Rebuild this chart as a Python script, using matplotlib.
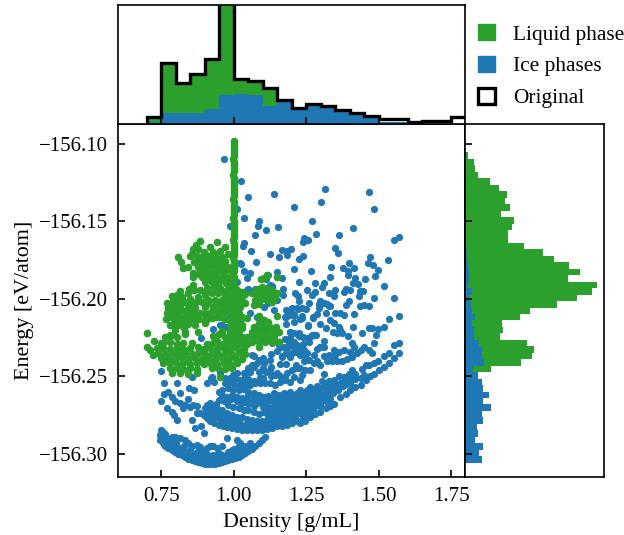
import matplotlib
matplotlib.use('Agg')
import matplotlib.pyplot as plt
from matplotlib.patches import Patch
import numpy as np

plt.rcParams['font.family'] = ['Liberation Serif', 'DejaVu Serif']
plt.rcParams['font.size'] = 15

BLUE = '#1f77b4'
GREEN = '#2ca02c'

# every energy below is given as eV under -156, so 0.2345 means -156.2345

# liquid phase: narrow column at 1 g/mL
liquid_column = [
    (1.000, .0985), (1.001, .1000), (1.000, .1020), (1.000, .1040), (1.001, .1058), (1.000, .1080), (0.999, .1100),
    (1.000, .1120), (1.001, .1140), (1.000, .1160), (1.000, .1178), (0.999, .1200), (1.000, .1220), (1.001, .1240),
    (1.000, .1260), (1.000, .1280), (1.000, .1300), (1.001, .1320), (1.000, .1340), (0.999, .1360), (1.000, .1380),
    (1.000, .1400), (1.001, .1420), (1.000, .1440), (1.000, .1460), (0.999, .1480), (1.000, .1500), (1.001, .1520),
    (1.000, .1540), (1.000, .1560), (1.000, .1580), (1.001, .1600), (0.999, .1620), (1.000, .1640), (1.000, .1660),
    (1.001, .1680), (1.000, .1700), (1.000, .1720), (0.999, .1740), (1.000, .1760), (1.001, .1780), (1.000, .1800),
    (1.000, .1820), (0.999, .1840), (1.001, .1860), (1.000, .1880), (1.000, .1900), (1.000, .1920), (1.001, .1940),
    (1.000, .1960), (1.000, .2000), (1.000, .2040), (1.001, .2080), (1.000, .2120), (1.000, .2160), (1.000, .2200),
]

# liquid phase: top blob
liquid_upper = [
    (.885, .1628), (.944, .1637), (.970, .1665), (.870, .1654), (.919, .1669), (.861, .1682), (.878, .1682),
    (.855, .1712), (.898, .1697), (.930, .1697), (.953, .1691), (.849, .1725), (.872, .1725), (.890, .1729),
    (.913, .1725), (.936, .1725), (.959, .1729), (.979, .1712), (.809, .1729), (.818, .1766), (.824, .1804),
    (.844, .1794), (.863, .1761), (.882, .1761), (.901, .1755), (.924, .1755), (.947, .1755), (.970, .1755),
    (.878, .1794), (.898, .1790), (.919, .1790), (.939, .1790), (.962, .1790), (.982, .1794), (.861, .1837),
    (.884, .1826), (.905, .1826), (.924, .1826), (.944, .1826), (.965, .1819), (.859, .1858), (.890, .1862),
    (.913, .1862), (.936, .1858), (.956, .1869), (.901, .1890), (.924, .1890), (.947, .1897), (.976, .1858),
    (.988, .1815), (.988, .1901), (.905, .1720), (.925, .1770), (.945, .1810), (.965, .1850), (.900, .1860),
    (.920, .1840), (.880, .1840), (.990, .1880), (.975, .1900), (.960, .1880),
]

# liquid phase: middle band
liquid_middle = [
    (.861, .1912), (.847, .1940), (.863, .1944), (.815, .1948), (.803, .1976), (.786, .1981), (.821, .1987),
    (.844, .1966), (.884, .1944), (.907, .1933), (.930, .1933), (.953, .1933), (.976, .1944), (.994, .1923),
    (.878, .1987), (.901, .1976), (.924, .1966), (.947, .1966), (.970, .1976), (.994, .1976), (1.011, .1944),
    (1.040, .1970), (.890, .2019), (.913, .2008), (.936, .2008), (.959, .2008), (.982, .2008), (1.005, .2008),
    (1.028, .2008), (.769, .2030), (.786, .2030), (.809, .2019), (.774, .2062), (.798, .2062), (.815, .2051),
    (.844, .2062), (.867, .2062), (.901, .2051), (.930, .2051), (.953, .2047), (.976, .2051), (1.000, .2051),
    (1.022, .2051), (1.040, .2030), (.769, .2094), (.786, .2094), (.809, .2094), (.838, .2094), (.861, .2094),
    (.884, .2094), (.919, .2094), (.947, .2084), (.970, .2084), (.994, .2094), (1.017, .2090), (.766, .2131),
    (.792, .2127), (.821, .2127), (.844, .2127), (.872, .2127), (.924, .2127), (.953, .2116), (.988, .2137),
    (1.011, .2137), (1.045, .2127), (.786, .2170), (.809, .2170), (.844, .2165), (.867, .2170), (.901, .2159),
    (.988, .2170), (1.011, .2180), (.798, .2202), (.832, .2213), (.878, .2213), (.792, .2234), (.988, .2213),
    (1.011, .2223), (.940, .1910), (.960, .1950), (.920, .1950), (.900, .1960), (.940, .2030), (.970, .2030),
    (.995, .2030), (1.020, .2020), (.910, .2030), (1.010, .2070), (.980, .2070), (.960, .2070), (.930, .2070),
    (.830, .2080), (.800, .2110), (.780, .2110), (.830, .2150), (1.000, .2240), (.990, .2240), (1.010, .2240),
    (1.030, .2120), (1.030, .2170), (1.020, .2210), (1.030, .2250), (1.045, .2250), (1.030, .2190), (1.015, .1990),
    (1.030, .1960), (.900, .2100), (.905, .2140), (.940, .2120), (.970, .2130), (.880, .2130), (.860, .2130),
    (.850, .2030), (.830, .2020), (.850, .2000), (.870, .2020), (.790, .2000), (.810, .2060), (.780, .2170),
    (.815, .2130), (.830, .2190), (.800, .2150), (.970, .2250), (.950, .2230), (.930, .2240), (.960, .2210),
]

# liquid phase: the two blobs right of the column
liquid_right = [
    (1.103, .1864), (1.115, .1847), (1.094, .1873), (1.149, .1858), (1.080, .1940), (1.097, .1923), (1.115, .1933),
    (1.132, .1944), (1.149, .1966), (1.063, .1966), (1.080, .1976), (1.103, .1966), (1.126, .1976), (1.143, .1998),
    (1.074, .2008), (1.092, .2008), (1.115, .2008), (1.132, .2019), (1.069, .2041), (1.086, .2034), (1.086, .2112),
    (1.149, .2112), (1.103, .2137), (1.120, .2148), (1.086, .2159), (1.069, .2180), (1.103, .2180), (1.126, .2180),
    (1.147, .2180), (1.063, .2213), (1.086, .2213), (1.109, .2213), (1.132, .2213), (1.155, .2213), (1.069, .2245),
    (1.092, .2245), (1.115, .2245), (1.138, .2241), (1.063, .2277), (1.086, .2277), (1.109, .2277), (1.132, .2277),
    (1.157, .2277), (1.086, .2309), (1.100, .2195), (1.120, .2195), (1.140, .2260), (1.100, .2260), (1.120, .2260),
    (1.080, .2195), (1.090, .1950), (1.120, .1950), (1.100, .1985), (1.120, .1990),
]

# liquid phase: bottom band
liquid_lower = [
    (.702, .2223), (.700, .2313), (.725, .2273), (.723, .2363), (.713, .2331), (.751, .2288), (.763, .2249),
    (.780, .2234), (.803, .2245), (.832, .2228), (.855, .2283), (.878, .2313), (.942, .2271), (.970, .2288),
    (.988, .2266), (1.011, .2266), (1.034, .2288), (.757, .2288), (.780, .2281), (.803, .2292), (.826, .2285),
    (.907, .2290), (.930, .2283), (.953, .2292), (.976, .2285), (1.000, .2290), (1.022, .2283), (1.045, .2292),
    (.734, .2320), (.757, .2316), (.780, .2324), (.803, .2318), (.826, .2322), (.849, .2318), (.896, .2322),
    (.919, .2316), (.942, .2324), (.965, .2318), (.988, .2322), (1.011, .2316), (1.034, .2322), (.740, .2352),
    (.763, .2356), (.786, .2348), (.809, .2354), (.832, .2350), (.855, .2356), (.878, .2348), (.901, .2354),
    (.924, .2350), (.947, .2356), (.970, .2348), (.994, .2354), (1.017, .2350), (1.040, .2356), (.751, .2384),
    (.774, .2380), (.798, .2388), (.821, .2382), (.844, .2386), (.867, .2380), (.890, .2388), (.913, .2382),
    (.936, .2386), (.959, .2380), (.982, .2388), (1.005, .2382), (1.028, .2386), (.757, .2417), (.780, .2413),
    (.803, .2420), (.826, .2415), (.849, .2419), (.872, .2413), (.896, .2420), (.919, .2415), (.942, .2419),
    (.965, .2413), (.988, .2420), (1.011, .2415), (.780, .2449), (.803, .2445), (.826, .2452), (.849, .2447),
    (.872, .2451), (.924, .2449), (.947, .2445), (.970, .2452), (.994, .2447), (.786, .2481), (.815, .2477),
    (.844, .2484), (.872, .2479), (.953, .2503),
]

# ice phases: sparse points in the upper part of the cloud
ice_upper = [
    (1.024, .1242), (1.048, .1343), (1.139, .1323), (1.316, .1293), (1.466, .1315), (1.300, .1377), (1.485, .1424),
    (1.209, .1407), (1.013, .1424), (1.036, .1482), (1.087, .1497), (1.084, .1530), (1.112, .1555), (1.154, .1538),
    (1.270, .1502), (1.410, .1544), (1.074, .1592), (1.037, .1643), (1.033, .1663), (1.061, .1691), (1.285, .1585),
    (1.365, .1590), (1.243, .1611), (1.255, .1622), (1.239, .1637), (1.553, .1620), (1.571, .1605), (1.165, .1686),
    (1.197, .1680), (1.184, .1691), (1.184, .1718), (1.127, .1712), (1.157, .1729), (1.349, .1671), (1.361, .1706),
    (1.239, .1723), (1.224, .1744), (1.470, .1731), (1.534, .1751), (1.463, .1768), (1.481, .1781), (1.077, .1764),
    (1.024, .1774), (1.209, .1811), (1.266, .1822), (1.337, .1796), (1.378, .1800), (1.397, .1770), (1.414, .1804),
    (1.499, .1815), (1.036, .1819), (1.058, .1832), (1.047, .1869), (1.117, .1847), (1.112, .1873), (1.150, .1828),
    (1.167, .1869), (1.394, .1824), (1.394, .1850), (1.333, .1858), (1.418, .1867), (1.454, .1873), (1.488, .1854),
    (1.224, .1890), (1.282, .1901), (1.313, .1897), (1.305, .1925), (1.411, .1901), (1.428, .1908), (1.517, .1916),
    (1.048, .1935), (1.074, .1940), (1.131, .1916), (1.253, .1942), (1.282, .1955), (1.270, .1978), (1.348, .1942),
    (1.329, .1966), (1.345, .1981), (1.386, .1940), (1.382, .1959), (1.401, .1944), (1.435, .1953), (1.446, .1950),
    (1.434, .1981), (1.485, .1993), (1.553, .1993), (1.213, .1961), (1.222, .1981), (1.224, .2017), (1.260, .2030),
    (1.293, .2034), (1.305, .2030), (1.322, .2034), (1.334, .2047), (1.299, .2015), (1.182, .2073), (1.199, .2064),
    (1.222, .2064), (1.237, .2058), (1.251, .2067), (1.195, .2107), (1.207, .2105), (1.180, .2116), (1.228, .2133),
    (1.236, .2122), (1.274, .2124), (1.180, .2165), (1.208, .2150), (1.255, .2174), (1.195, .2213), (1.209, .2223),
    (1.224, .2240), (1.239, .2245), (1.255, .2258), (1.270, .2236), (1.284, .2234), (1.178, .2262), (1.195, .2256),
    (1.190, .2288), (1.172, .2309), (1.207, .2313), (1.236, .2309), (1.299, .2309),
]

# ice phases: right hand side of the cloud
ice_right = [
    (1.322, .2405), (1.340, .2405), (1.357, .2401), (1.374, .2401), (1.392, .2390), (1.409, .2377), (1.426, .2352),
    (1.438, .2330), (1.449, .2309), (1.466, .2330), (1.478, .2352), (1.328, .2362), (1.345, .2330), (1.363, .2341),
    (1.380, .2330), (1.403, .2341), (1.415, .2309), (1.409, .2283), (1.395, .2244), (1.374, .2223), (1.357, .2223),
    (1.343, .2212), (1.484, .2287), (1.490, .2234), (1.466, .2191), (1.478, .2191), (1.499, .2197), (1.518, .2180),
    (1.536, .2133), (1.571, .2111), (1.443, .2223), (1.411, .2186), (1.415, .2100), (1.386, .2040), (1.397, .2012),
    (1.435, .2047), (1.449, .2040), (1.466, .2047), (1.349, .2090), (1.366, .2094), (1.380, .2105), (1.328, .2047),
    (1.311, .2029), (1.299, .2040), (1.294, .2062), (1.317, .2094), (1.288, .2098), (1.274, .2120), (1.236, .2115),
    (1.256, .2169), (1.299, .2163), (1.317, .2191), (1.334, .2137), (1.345, .2158), (1.363, .2180), (1.368, .2201),
    (1.230, .2240), (1.253, .2255), (1.268, .2238), (1.282, .2234), (1.299, .2309), (1.311, .2276), (1.313, .2309),
    (1.288, .2326), (1.276, .2362), (1.253, .2352), (1.242, .2330), (1.230, .2319), (1.247, .2362), (1.230, .2362),
    (1.242, .2405), (1.259, .2395), (1.276, .2416), (1.288, .2405), (1.299, .2427), (1.311, .2373), (1.340, .2373),
    (1.351, .2362), (1.230, .2448), (1.247, .2459), (1.265, .2459), (1.236, .2491), (1.230, .2524), (1.570, .2287),
    (1.553, .2302), (1.571, .2352), (1.553, .2384), (1.536, .2412), (1.518, .2442), (1.501, .2463), (1.484, .2485),
    (1.472, .2498), (1.455, .2524), (1.438, .2556), (1.420, .2571), (1.403, .2592), (1.386, .2614), (1.368, .2631),
    (1.345, .2678), (1.334, .2695), (1.317, .2706), (1.299, .2728), (1.282, .2743), (1.265, .2764), (1.247, .2786),
    (1.230, .2803), (1.536, .2352), (1.518, .2369), (1.498, .2399), (1.484, .2416), (1.466, .2427), (1.455, .2427),
    (1.443, .2453), (1.420, .2485), (1.409, .2463), (1.397, .2485), (1.380, .2502), (1.363, .2498), (1.345, .2524),
    (1.328, .2530), (1.313, .2485), (1.305, .2534), (1.288, .2562), (1.265, .2571), (1.253, .2588), (1.242, .2609),
    (1.230, .2620), (1.230, .2695), (1.247, .2685), (1.265, .2663), (1.282, .2652), (1.299, .2642), (1.317, .2631),
    (1.334, .2609), (1.351, .2588), (1.368, .2571), (1.386, .2549), (1.403, .2541), (1.420, .2519), (1.438, .2513),
    (1.449, .2491), (1.230, .2652), (1.247, .2642), (1.265, .2631), (1.282, .2620), (1.299, .2605), (1.317, .2592),
    (1.334, .2571), (1.351, .2556), (1.368, .2541), (1.386, .2524), (1.403, .2506), (1.420, .2498), (1.230, .2738),
    (1.247, .2728), (1.265, .2706), (1.282, .2695), (1.299, .2678), (1.317, .2663), (1.334, .2648), (1.299, .2695),
    (1.276, .2728), (1.253, .2749), (1.236, .2781), (1.276, .2588), (1.259, .2599), (1.294, .2577), (1.311, .2566),
    (1.328, .2545), (1.345, .2566), (1.240, .2670), (1.256, .2660), (1.274, .2640), (1.290, .2630), (1.308, .2610),
    (1.325, .2600), (1.342, .2580), (1.360, .2560), (1.378, .2535), (1.395, .2515), (1.412, .2510), (1.240, .2710),
    (1.258, .2695), (1.275, .2675), (1.292, .2660), (1.310, .2645), (1.326, .2630), (1.344, .2610), (1.360, .2590),
    (1.377, .2560), (1.240, .2630), (1.258, .2615), (1.274, .2605), (1.290, .2590), (1.305, .2575), (1.240, .2760),
    (1.260, .2735), (1.240, .2780),
]

# ice phases: the bowl at the bottom
ice_bowl = [
    (.746, .2910), (.755, .2932), (.764, .2949), (.775, .2964), (.786, .2979), (.798, .2990), (.809, .3003),
    (.821, .3011), (.832, .3022), (.844, .3031), (.855, .3039), (.867, .3048), (.878, .3056), (.890, .3061),
    (.901, .3065), (.913, .3065), (.924, .3065), (.936, .3063), (.948, .3059), (.959, .3054), (.971, .3048),
    (.982, .3041), (.994, .3035), (1.005, .3026), (1.017, .3018), (1.028, .3007), (1.040, .2996), (1.051, .2981),
    (1.063, .2968), (1.074, .2949), (1.086, .2932), (1.097, .2910), (1.109, .2893), (.746, .2878), (.751, .2893),
    (.763, .2910), (.775, .2921), (.786, .2932), (.801, .2958), (.813, .2964), (.824, .2975), (.836, .2986),
    (.847, .2996), (.861, .3007), (.873, .3018), (.884, .3029), (.896, .3035), (.909, .3039), (.924, .3039),
    (.938, .3035), (.953, .3033), (.967, .3022), (.979, .3018), (.990, .3007), (1.002, .2996), (1.013, .2986),
    (1.025, .2971), (1.036, .2958), (1.048, .2949), (1.057, .2932), (.751, .2846), (.757, .2857), (.763, .2872),
    (.786, .2893), (.798, .2889), (.815, .2900), (.832, .2910), (.844, .2932), (.855, .2949), (.873, .2943),
    (.884, .2958), (.896, .2981), (.907, .2964), (.919, .2949), (.930, .2949), (.942, .2964), (.959, .2949),
    (.976, .2900), (.994, .2975), (1.013, .2910), (1.022, .2932), (1.034, .2949), (.948, .2996), (.873, .2986),
    (.901, .3007), (.930, .3007), (.770, .2900), (.800, .2930), (.830, .2950), (.850, .2975), (.870, .3000),
    (.890, .3010), (.910, .3010), (.940, .3010), (.960, .3010), (.980, .2990), (1.000, .2970), (1.020, .2950),
    (.760, .2930), (.790, .2960), (.820, .2990), (.915, .3050), (.945, .3045),
]

# ice phases: the curved bands above the bowl
ice_bands = [
    (.896, .2749), (.907, .2771), (.919, .2792), (.933, .2803), (.948, .2814), (.962, .2820), (.976, .2829),
    (.994, .2835), (1.011, .2842), (1.028, .2846), (1.045, .2850), (1.063, .2850), (1.080, .2850), (1.097, .2846),
    (1.115, .2842), (1.132, .2835), (1.149, .2824), (1.167, .2820), (1.184, .2814), (1.201, .2803), (1.218, .2792),
    (.901, .2706), (.913, .2728), (.924, .2749), (.936, .2764), (.953, .2777), (.971, .2786), (.988, .2797),
    (1.005, .2803), (1.022, .2807), (1.040, .2814), (1.057, .2820), (1.074, .2824), (1.092, .2820), (1.109, .2814),
    (1.126, .2803), (1.144, .2799), (1.161, .2792), (1.178, .2782), (1.195, .2771), (1.213, .2760), (.907, .2685),
    (.919, .2674), (.930, .2691), (.942, .2706), (.959, .2721), (.976, .2739), (.994, .2749), (1.011, .2764),
    (1.028, .2764), (1.045, .2777), (1.063, .2782), (1.080, .2786), (1.097, .2792), (1.115, .2782), (1.132, .2777),
    (1.149, .2764), (1.167, .2749), (1.184, .2743), (1.201, .2734), (1.218, .2721), (.948, .2653), (.965, .2663),
    (.982, .2685), (.999, .2696), (1.017, .2706), (1.034, .2721), (1.051, .2717), (1.069, .2728), (1.086, .2743),
    (1.103, .2734), (1.120, .2728), (1.138, .2717), (1.155, .2706), (1.172, .2696), (1.190, .2706), (1.207, .2685),
    (.948, .2599), (.959, .2620), (.976, .2631), (.994, .2620), (1.011, .2631), (1.028, .2642), (1.045, .2653),
    (1.063, .2663), (1.080, .2674), (1.097, .2678), (1.115, .2663), (1.132, .2663), (1.149, .2670), (1.167, .2653),
    (1.184, .2648), (1.201, .2653), (.959, .2588), (.982, .2577), (.999, .2588), (1.017, .2588), (1.034, .2584),
    (1.051, .2599), (1.069, .2610), (1.086, .2620), (1.103, .2631), (1.120, .2627), (1.138, .2610), (1.155, .2620),
    (1.172, .2610), (1.195, .2599), (1.218, .2610), (.971, .2545), (.988, .2535), (1.005, .2513), (1.022, .2524),
    (1.040, .2545), (1.057, .2556), (1.074, .2545), (1.092, .2545), (1.109, .2545), (1.126, .2545), (1.144, .2556),
    (1.161, .2535), (1.178, .2524), (1.195, .2535), (1.100, .2700), (1.120, .2700), (1.140, .2690), (1.160, .2680),
    (1.180, .2675), (1.200, .2670), (1.220, .2660), (1.120, .2760), (1.140, .2745), (1.160, .2735), (1.180, .2720),
    (1.200, .2700), (1.220, .2690), (1.050, .2620), (1.070, .2640), (1.090, .2650), (1.110, .2650), (1.130, .2640),
    (1.150, .2640), (1.170, .2630), (1.190, .2625), (1.210, .2620), (1.230, .2590), (1.000, .2550), (1.020, .2560),
    (1.040, .2570), (.960, .2640), (.975, .2660), (.990, .2650), (1.010, .2660), (1.030, .2670), (1.050, .2680),
    (1.070, .2690), (.930, .2720), (.945, .2740), (.960, .2750), (.980, .2760), (1.000, .2770), (1.020, .2780),
    (.920, .2720), (1.050, .2790), (1.080, .2810), (1.100, .2800), (.925, .2700), (.940, .2680), (1.150, .2790),
    (1.180, .2760), (1.210, .2730), (1.230, .2700), (1.170, .2800),
]

# ice phases: loose points left of the bands and behind the liquid blobs
ice_scattered = [
    (.749, .2466), (.758, .2541), (.803, .2545), (.855, .2507), (.907, .2545), (.922, .2513), (.933, .2535),
    (.847, .2573), (.864, .2592), (.816, .2610), (.761, .2616), (.775, .2605), (.749, .2663), (.786, .2635),
    (.798, .2659), (.769, .2706), (.786, .2728), (.794, .2749), (.806, .2782), (.815, .2674), (.826, .2706),
    (.844, .2648), (.859, .2685), (.875, .2691), (.855, .2782), (.884, .2739), (.867, .2835), (.886, .2818),
    (.898, .2867), (.832, .2685), (.849, .2696), (.873, .2739), (1.057, .2470), (1.086, .2470), (1.112, .2470),
    (1.149, .2481), (1.184, .2481), (1.144, .2492), (1.178, .2502), (1.215, .2427), (1.207, .2502), (1.080, .2416),
    (1.063, .2427), (1.051, .2449), (1.126, .2395), (1.167, .2373), (1.195, .2363), (1.218, .2341), (1.132, .2287),
    (1.155, .2298), (1.184, .2309), (1.207, .2277), (1.069, .2373), (1.040, .2502), (1.045, .2470), (1.092, .2513),
    (.999, .2492), (.988, .2513), (.971, .2513), (.965, .1100), (.986, .1530), (.886, .2251), (.905, .2116),
    (.930, .2195), (.953, .2170), (.976, .2180), (.988, .2116), (1.011, .1890), (1.022, .1772), (1.138, .2073),
    (1.045, .1944), (1.126, .1912), (1.170, .1940), (1.170, .1976), (1.120, .2030), (1.103, .2051), (1.086, .1998),
    (1.149, .2008), (1.057, .2094), (1.080, .2116), (1.022, .2148), (.959, .2170), (.988, .2202), (1.201, .2062),
    (1.218, .2062), (1.178, .2116), (1.207, .2105), (1.195, .2213), (1.224, .2223), (1.161, .2309), (1.184, .2320),
    (1.207, .2309), (1.166, .2374), (1.195, .2374), (1.218, .2341), (1.063, .2363), (1.086, .2395), (1.069, .2438),
    (1.034, .2481), (1.011, .2481), (.924, .2503), (.953, .2481), (1.103, .2417), (1.126, .2460), (1.100, .2450),
    (1.130, .2440), (1.050, .2520), (1.070, .2530), (1.100, .2510), (1.130, .2500), (1.160, .2500), (1.200, .2460),
    (1.220, .2450), (1.160, .2420), (1.180, .2420), (1.100, .2380), (1.130, .2360), (1.150, .2340), (1.180, .2350),
    (1.200, .2350), (1.220, .2300), (1.240, .2290), (1.260, .2280),
]

# density histogram above the scatter
density_edges = [0.70, 0.75, 0.80, 0.85, 0.90, 0.95, 1.00, 1.05, 1.10, 1.15, 1.20, 1.25,
                 1.30, 1.35, 1.40, 1.45, 1.50, 1.55, 1.60, 1.65, 1.70, 1.75, 1.80]
density_ice = [5, 33, 33, 33, 45, 87, 90, 85, 54, 65, 48, 60, 54, 42, 32, 24, 5, 5, 0, 0, 0, 0]
density_all = [22, 180, 120, 148, 193, 500, 132, 128, 108, 70, 48, 60, 54, 42, 32, 24, 5, 5, 0, 0, 0, 0]
density_original = [22, 180, 120, 148, 193, 500, 132, 128, 108, 70, 48, 60, 54, 42, 32, 24, 14, 14, 6, 10, 10, 20]

# energy histogram right of the scatter, from high to low energy
energy_top = .0974
energy_bottom = .3057
energy_all = [3, 0, 8, 26, 31, 38, 76, 101, 126, 121, 135, 108, 146, 142, 130, 130, 178, 233, 268, 312, 345, 310,
              395, 381, 336, 275, 195, 165, 112, 115, 104, 185, 207, 201, 168, 77, 40,
              51, 54, 71, 54, 77, 51, 53, 35, 38, 29, 54, 41, 51]
energy_ice = [0, 0, 0, 0, 0, 0, 0, 0, 0, 0, 0, 0, 2, 2, 3, 3, 3, 6, 7, 9, 13, 13,
              10, 21, 13, 18, 20, 29, 20, 27, 26, 43, 50, 50, 57, 25, 38,
              51, 54, 71, 54, 77, 51, 53, 35, 38, 29, 54, 41, 51]

density_ticks = [0.75, 1.00, 1.25, 1.50, 1.75]
energy_ticks = [-156.30, -156.25, -156.20, -156.15, -156.10]


def to_xy(points):
    arr = np.array(points)
    return arr[:, 0], -156.0 - arr[:, 1]


fig = plt.figure(figsize=(6.24, 5.35), dpi=100)
ax = fig.add_axes([0.1891, 0.1084, 0.5561, 0.6598])
ax_top = fig.add_axes([0.1891, 0.7682, 0.5561, 0.2224])
ax_right = fig.add_axes([0.7452, 0.1084, 0.2228, 0.6598])

# scatter
for points in [ice_upper, ice_right, ice_bowl, ice_bands, ice_scattered]:
    x, y = to_xy(points)
    ax.scatter(x, y, s=27, color=BLUE, linewidths=0)
for points in [liquid_column, liquid_upper, liquid_middle, liquid_right, liquid_lower]:
    x, y = to_xy(points)
    ax.scatter(x, y, s=30, color=GREEN, linewidths=0)

ax.set_xlim(0.601, 1.798)
ax.set_ylim(-156.315, -156.0874)
ax.set_xticks(density_ticks)
ax.set_xticklabels(['%.2f' % t for t in density_ticks])
ax.set_yticks(energy_ticks)
ax.set_yticklabels(['\u2212%.2f' % abs(t) for t in energy_ticks])
ax.set_xlabel('Density [g/mL]', labelpad=5, fontsize=15.8)
ax.set_ylabel('Energy [eV/atom]', labelpad=4, fontsize=15.8)

# top histogram
ice_d = np.array(density_ice)
all_d = np.array(density_all)
ax_top.stairs(ice_d, density_edges, fill=True, color=BLUE)
ax_top.stairs(all_d, density_edges, baseline=ice_d, fill=True, color=GREEN)
ax_top.stairs(density_original, density_edges, baseline=0, color='k', linewidth=2.4)
ax_top.set_xlim(ax.get_xlim())
ax_top.set_ylim(0, 352)
ax_top.set_xticks(density_ticks)
ax_top.set_xticklabels([])
ax_top.set_yticks([])

# right histogram
edges = -156.0 - np.linspace(energy_top, energy_bottom, len(energy_all) + 1)
ice_e = np.array(energy_ice)
all_e = np.array(energy_all)
ax_right.stairs(ice_e, edges, fill=True, color=BLUE, orientation='horizontal')
ax_right.stairs(all_e, edges, baseline=ice_e, fill=True, color=GREEN, orientation='horizontal')
ax_right.set_ylim(ax.get_ylim())
ax_right.set_xlim(0, 417)
ax_right.set_yticks(energy_ticks)
ax_right.set_yticklabels([])
ax_right.set_xticks([])

for a in [ax, ax_top, ax_right]:
    a.tick_params(direction='in', length=5, width=1.2)
    for spine in a.spines.values():
        spine.set_linewidth(1.2)
ax.tick_params(axis='both', pad=7)

handles = [Patch(color=GREEN, label='Liquid phase'),
           Patch(color=BLUE, label='Ice phases'),
           Patch(facecolor='white', edgecolor='k', linewidth=2.4, label='Original')]
fig.legend(handles=handles, loc='upper left', bbox_to_anchor=(0.766, 0.955), frameon=False,
           borderpad=0, borderaxespad=0, handlelength=0.78, handleheight=0.78,
           handletextpad=0.85, labelspacing=0.53, fontsize=15.4)

fig.savefig('out.png', dpi=100)
